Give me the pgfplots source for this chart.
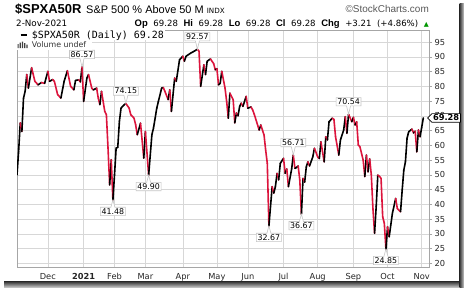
\documentclass[border=0pt]{standalone}
\usepackage{pgfplots}
\pgfplotsset{compat=1.18}
\usepackage{pgfplotstable}
\usepackage{fontspec}
\setmainfont{Liberation Sans}
\newfontfamily\dv{DejaVu Sans}
\newfontfamily\dvm{DejaVu Sans Mono}
\usetikzlibrary{shapes.callouts,shapes.symbols}
\definecolor{spxred}{RGB}{220,20,60}
\definecolor{gridc}{RGB}{215,215,215}
\definecolor{upgreen}{RGB}{0,150,0}

\pgfplotstableread{
x y
0 50.0
1 58.0
2 67.6
3 64.7
4 76.0
5 78.3
6 84.0
7 79.4
9 86.3
11 81.7
13 80.5
15 81.3
17 81.0
19 85.1
20 81.7
22 82.3
23 81.7
25 77.2
27 76.0
29 81.7
31 85.3
33 80.0
35 78.8
36 82.0
38 82.2
39 81.5
40 86.57
41 74.9
43 82.8
44 84.0
46 79.4
47 78.8
49 79.4
50 76.0
51 73.8
52 78.3
54 71.5
55 70.4
56 59.1
57 46.6
58 55.1
59 41.48
60 50.0
61 59.1
62 59.3
63 68.1
64 72.6
66 73.8
67 74.15
69 72.6
70 70.4
72 69.2
73 67.0
74 63.6
76 67.5
78 55.7
79 64.7
81 49.90
83 63.6
84 65.9
86 72.6
87 74.9
89 79.4
90 79.6
91 78.3
93 75.5
94 78.8
95 71.5
97 82.8
98 81.7
100 89.0
102 90.2
103 88.5
104 90.2
107 91.3
109 91.9
111 92.57
112 91.9
113 80.0
115 87.3
116 84.0
117 88.5
119 89.3
121 87.7
122 85.6
123 86.0
124 80.5
125 81.0
126 85.1
128 79.4
129 74.9
130 69.2
131 77.7
133 75.5
134 67.6
135 71.0
136 70.0
137 73.2
138 74.3
139 73.2
141 76.6
142 72.6
144 73.0
145 72.0
146 70.5
149 65.2
150 66.9
152 63.5
153 58.4
154 53.9
155 32.67
157 46.0
158 43.8
159 46.0
160 50.5
161 48.3
162 53.9
164 55.6
165 50.5
166 52.0
167 46.0
169 52.0
170 56.71
171 52.2
172 52.5
173 53.0
174 48.2
175 36.67
176 48.8
177 47.5
178 52.7
179 54.4
180 53.0
182 56.1
183 59.0
185 56.1
186 55.5
187 61.2
189 54.4
190 62.9
191 61.8
192 68.0
194 69.2
195 68.8
196 62.9
198 56.7
199 61.8
201 65.2
202 69.7
203 64.1
204 70.54
206 68.0
207 69.5
208 66.9
209 68.0
210 60.1
211 59.5
213 55.0
214 49.4
215 56.7
216 51.0
217 55.4
218 50.0
219 38.6
220 30.2
221 39.2
222 49.9
223 49.5
224 48.8
225 35.8
226 33.6
227 24.85
228 32.4
229 29.0
231 37.0
233 42.0
234 38.6
236 37.5
237 44.8
238 51.6
239 54.4
240 62.4
241 64.6
243 65.5
244 64.2
245 64.8
246 57.8
247 65.2
248 62.9
249 66.07
250 69.28
}\datatable
\pgfplotstablegetrowsof{\datatable}\edef\nrows{\pgfplotsretval}
\pgfplotstablecreatecol[create col/assign/.code={%
  \getthisrow{y}\cur
  \ifnum\pgfplotstablerow<\numexpr\nrows-1\relax
    \getnextrow{y}\nxt
    \pgfmathparse{\nxt>=\cur?1:0}%
    \edef\udv{\pgfmathresult}%
  \else
    \def\udv{1}%
  \fi
  \pgfkeyslet{/pgfplots/table/create col/next content}\udv}]{c}\datatable

\tikzset{ann/.style={rectangle callout, draw=gray!45, fill=white, line width=0.6bp,
  inner sep=1.2bp, callout pointer width=4bp, font=\dv\fontsize{7.9}{8}\selectfont},
  hd/.style={anchor=base west, inner sep=0}}
\newcommand{\peak}[3]{\node[ann, callout absolute pointer={(axis cs:#1,#2)}] at ([yshift=12.5bp]axis cs:#1,#2) {#3};}
\newcommand{\trough}[3]{\node[ann, callout absolute pointer={(axis cs:#1,#2)}] at ([yshift=-11.5bp]axis cs:#1,#2) {#3};}
\newcommand{\num}[1]{{\dv\fontsize{8.6}{10}\selectfont #1}}
\newcommand{\lab}[1]{{\fontsize{9.5}{10}\selectfont\bfseries #1}}
\newcommand{\gp}{\hspace{5.6bp}}

\begin{document}
\begin{tikzpicture}[x=1bp,y=1bp]
\useasboundingbox (0bp,0bp) rectangle (464bp,-288bp);
\fill[white] (0bp,0bp) rectangle (464bp,-288bp);
\shade[top color=black!80, bottom color=black!20] (4bp,-281.5bp) rectangle (464bp,-287.5bp);
\shade[left color=black!80, right color=black!20] (459.5bp,-3bp) rectangle (464bp,-287.5bp);
% titles
\node[hd] at (15bp,-13bp) {\fontsize{13}{14}\selectfont\bfseries \$SPXA50R};
\node[hd] at (86bp,-13bp) {\fontsize{11}{12}\selectfont S\&P 500 \% Above 50 M \dv\fontsize{7.2}{9}\selectfont INDX};
\node[anchor=base east, inner sep=0, text=black!65] at (429bp,-12.5bp) {\fontsize{10}{12}\selectfont \textcopyright StockCharts.com};
\node[hd] at (16bp,-26.7bp) {\dv\fontsize{8.8}{10}\selectfont 2-Nov-2021};
\node[anchor=base east, inner sep=0] at (429bp,-26.7bp) {\lab{Op}\gp\num{69.28}\gp\lab{Hi}\gp\num{69.28}\gp\lab{Lo}\gp\num{69.28}\gp\lab{Cl}\gp\num{69.28}\gp\lab{Chg}\gp\num{+3.21}\gp\num{(+4.86\%)}\gp\textcolor{upgreen}{\dv\fontsize{6.5}{8}\selectfont ▲}};
\begin{axis}[at={(17bp,-267bp)}, anchor=south west, scale only axis,
  width=412bp, height=237bp,
  xmin=0, xmax=253.5, ymin=18.75, ymax=99.1,
  clip mode=individual,
  xtick={19,41,60,79,102,123,142,164,185,207,228,249},
  xticklabels={Dec,\textbf{2021},Feb,Mar,Apr,May,Jun,Jul,Aug,Sep,Oct,Nov},
  ytick={20,25,...,95},
  ytick pos=right, yticklabel pos=right, xtick pos=bottom,
  tick align=outside, major tick length=3bp,
  xtick style={draw=none},
  grid=major, major grid style={gridc, line width=0.5bp},
  axis line style={gray!70, line width=0.6bp},
  tick style={gray!70, line width=0.6bp},
  ticklabel style={font=\dv\fontsize{8.3}{9}\selectfont, text=black!85},
  yticklabel style={xshift=-1bp},
  /pgf/number format/assume math mode=true,
  colormap={ud}{color=(spxred) color=(black)},
  point meta min=0, point meta max=1,
]
\addplot[mesh, shader=flat corner, point meta=explicit, line width=1.6bp, line cap=round]
  table[x=x, y=y, meta=c] {\datatable};
\peak{40}{86.57}{86.57}
\peak{67}{74.15}{74.15}
\peak{111}{92.57}{92.57}
\peak{170}{56.71}{56.71}
\peak{204}{70.54}{70.54}
\trough{59}{41.48}{41.48}
\trough{81}{49.90}{49.90}
\trough{155}{32.67}{32.67}
\trough{175}{36.67}{36.67}
\trough{227}{24.85}{24.85}
\node[signal, signal to=west, draw=black, fill=white, line width=0.7bp, inner sep=1.2bp,
  font=\dv\bfseries\fontsize{8.3}{9}\selectfont, anchor=west] at (axis cs:252.3,69.28) {69.28};
\end{axis}
% legend
\fill[white] (17.3bp,-30.3bp) rectangle (165bp,-40bp);
\fill[white] (17.3bp,-40bp) rectangle (92bp,-49.5bp);
\draw[black, line width=1.5bp] (20.7bp,-35bp) -- (26.7bp,-35bp);
\node[hd] at (31.7bp,-38.3bp) {\dvm\fontsize{10}{11}\selectfont \$SPXA50R (Daily) 69.28};
\fill[black!75] (17.5bp,-48bp) rectangle (18.7bp,-44bp) (19.7bp,-48bp) rectangle (20.9bp,-42.5bp) (21.9bp,-48bp) rectangle (23.1bp,-41.5bp) (24.1bp,-48bp) rectangle (25.3bp,-43bp) (26.3bp,-48bp) rectangle (27.5bp,-44.5bp);
\node[hd, text=black!80] at (31.7bp,-47.7bp) {\dv\fontsize{7.9}{9}\selectfont Volume undef};
\end{tikzpicture}
\end{document}
